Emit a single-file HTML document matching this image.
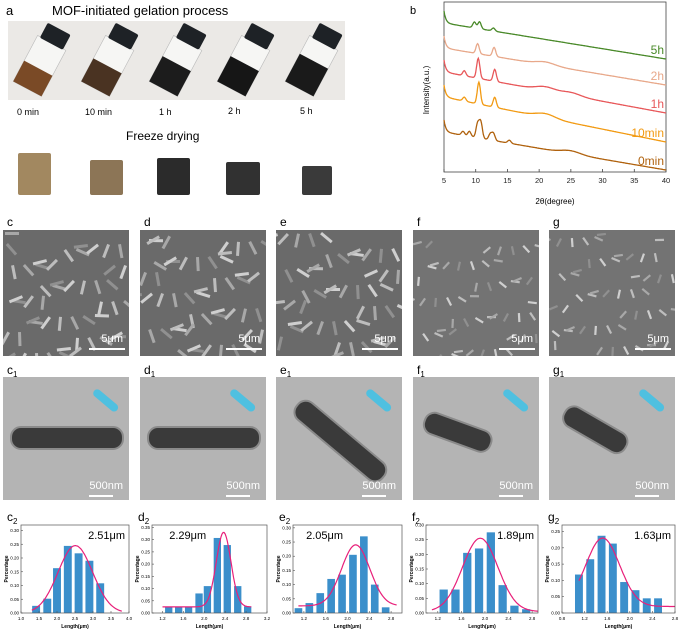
<!DOCTYPE html>
<html><head><meta charset="utf-8"><style>
body{margin:0;background:#fff}
svg{display:block;font-family:"Liberation Sans",sans-serif}
</style></head><body>
<svg id="fig" width="678" height="632" viewBox="0 0 678 632" xmlns="http://www.w3.org/2000/svg">
<defs id="defs"></defs>
<g>
<text x="6" y="15" font-size="13">a</text>
<text x="52" y="15" font-size="13">MOF-initiated gelation process</text>
<rect x="8" y="21" width="337" height="79" fill="#ebe9e6"/>
<g id="vials"></g>
<text x="17" y="115" font-size="9">0 min</text>
<text x="85" y="115" font-size="9">10 min</text>
<text x="159" y="115" font-size="9">1 h</text>
<text x="228" y="114" font-size="9">2 h</text>
<text x="300" y="114" font-size="9">5 h</text>
<text x="126" y="140" font-size="12">Freeze drying</text>
<g id="cubes"></g>
</g>
<g id="xrd">
<text x="410" y="14" font-size="11">b</text>
</g>
<g id="micro"></g>
<g id="hists"></g>
</svg>
<script>
// ---------- XRD data ----------
const xrdSeries = ["0min","10min","1h","2h","5h"];
const xrdColors = ["#b0620e","#f29a12","#e8585a","#e8a88a","#4a8a2a"];
const xrdStart = [40,75,100,124,149];
const xrdEnd = [2,30,59,87,113];
const xrdPeakPos = [[8,9,10.3,10.8,12.3,12.8,15.3,25],[8.2,10.5,13,21],[8.2,10.4,13,21,25],[10.3,12.9,21],[9.8,10.6,12.8]];
const xrdPeakH = [[4,5,14,16,6,7,3,3],[4,22,10,4],[5,20,12,4,3],[10,9,3],[6,7,3]];
const xrdTicks = [5,10,15,20,25,30,35,40];
const NS="http://www.w3.org/2000/svg";
function mk(tag,attrs,parent){const e=document.createElementNS(NS,tag);for(const k in attrs)e.setAttribute(k,attrs[k]);if(parent)parent.appendChild(e);return e;}
const svg=document.getElementById('fig');
const defs=document.getElementById('defs');
const xrd=document.getElementById('xrd');
const XL=444,XR=666,YT=2,YB=172;
const xx=v=>XL+(v-5)/35*(XR-XL);
const xy=v=>YB-v/170*(YB-YT);
const frame=mk('rect',{x:XL,y:YT,width:XR-XL,height:YB-YT,fill:'none',stroke:'#444','stroke-width':0.8},xrd);


xrdTicks.forEach(t=>{
  const l=mk('line',{x1:xx(t),x2:xx(t),y1:YB,y2:YB-3,stroke:'#444','stroke-width':0.8},xrd);
  
  
  const tx=mk('text',{x:xx(t),y:YB+11,'font-size':7.5,'text-anchor':'middle',fill:'#222'},xrd);
  tx.textContent=t;
  
  
});
const xt=mk('text',{x:555,y:204,'font-size':8,'text-anchor':'middle'},xrd);xt.textContent='2θ(degree)';


const yt=mk('text',{x:0,y:0,'font-size':8,'text-anchor':'middle',transform:'translate(429,90) rotate(-90)'},xrd);yt.textContent='Intensity(a.u.)';


xrdSeries.forEach((s,i)=>{
  let d='';
  for(let x=5;x<=40.001;x+=0.1){
    let v=xrdStart[i]+(xrdEnd[i]-xrdStart[i])*(x-5)/35+12*Math.exp(-(x-5)/0.3);
    xrdPeakPos[i].forEach((p,j)=>{v+=xrdPeakH[i][j]*Math.exp(-Math.pow((x-p)/(p>20?1.5:0.25),2)/2);});
    d+=(d?'L':'M')+xx(x).toFixed(1)+','+xy(v).toFixed(1);
  }
  const pth=mk('path',{d:d,fill:'none',stroke:xrdColors[i],'stroke-width':1.3},xrd);
  
  
  const lb=mk('text',{x:664,y:xy(xrdEnd[i])-5,'font-size':12,'text-anchor':'end',fill:xrdColors[i]},xrd);
  lb.textContent=s;
  
  
});
// ---------- vials & cubes ----------
const vialX=[40,108,176,244,312];
const vialLiquid=["#7a4a26","#4a3322","#1c1c1c","#161616","#1a1a1a"];
const vialLevel=[0.45,0.5,0.55,0.55,0.6];
const vg=document.getElementById('vials');
vialX.forEach((cx,i)=>{
  const g=mk('g',{transform:`rotate(28 ${cx} 65)`},vg);
  
  
  mk('rect',{x:cx-16,y:40,width:32,height:52,fill:'#f6f6f4',stroke:'#bbb','stroke-width':0.6},g);
  mk('rect',{x:cx-16,y:40+52*(1-vialLevel[i]),width:32,height:52*vialLevel[i],fill:vialLiquid[i]},g);
  mk('rect',{x:cx-13,y:24,width:26,height:17,rx:2,fill:'#1e2226'},g);
});
const cubeX=[18,90,157,226,302],cubeW=[33,33,33,34,30],cubeT=[153,160,158,162,166];
const cubeC=["#a28860","#8c7556","#2b2b2b","#313131","#3a3a3a"];
const cg=document.getElementById('cubes');
cubeX.forEach((x,i)=>{
  const r=mk('rect',{x:x,y:cubeT[i],width:cubeW[i],height:195-cubeT[i],fill:cubeC[i],rx:2},cg);
  
  
});
// ---------- microscopy ----------
const panelX=[3,140,276,413,549];
const panelL=["c","d","e","f","g"];
const rodAng=[0,0,40,20,30];
const mg=document.getElementById('micro');
panelX.forEach((x,i)=>{
  const w=126;
  const cp=mk('clipPath',{id:'sem'+i},defs);
  mk('rect',{x:x,y:230,width:w,height:126},cp);
  const cp2=mk('clipPath',{id:'tem'+i},defs);
  mk('rect',{x:x,y:377,width:w,height:123},cp2);
  const lab=mk('text',{x:x+4,y:226,'font-size':12},mg);lab.textContent=panelL[i];
  
  
  const sem=mk('rect',{x:x,y:230,width:w,height:126,fill:i<3?'#6a6a6a':'#737373'},mg);
  
  
  const sg=mk('g',{'clip-path':`url(#sem${i})`},mg);
  for(let k=0;k<50;k++){
    const rx=x+2+((k*37+i*13)%124),ry=232+((k*53+i*29)%124),a=(k*47+i*31)%180;
    const sh=['#a8a8a8','#bdbdbd','#cfcfcf','#909090'][k%4];
    mk('rect',{x:rx,y:ry,width:i<3?14:9,height:i<3?3:2.2,fill:sh,transform:`rotate(${a} ${rx} ${ry})`},sg);
  }
  mk('text',{x:x+w-6,y:342,'font-size':11,'text-anchor':'end',fill:'#fff'},mg).textContent='5μm';
  mk('rect',{x:x+w-40,y:348,width:36,height:2,fill:'#fff'},mg);
  const l1=mk('text',{x:x+4,y:374,'font-size':12},mg);l1.innerHTML=panelL[i]+'<tspan font-size="8" dy="3">1</tspan>';
  
  
  const tem=mk('rect',{x:x,y:377,width:w,height:123,fill:'#b4b4b4'},mg);
  
  
  const tg=mk('g',{'clip-path':`url(#tem${i})`},mg);
  const rodG=mk('g',{transform:`rotate(${rodAng[i]} ${x+60} 440)`},tg);
  mk('rect',{x:x+8,y:427,width:i<3?112:70,height:22,rx:10,fill:'#3a3a3a',stroke:'#8a8a8a','stroke-width':2},rodG);
  const cap=mk('rect',{x:x+90,y:390,width:30,height:8,rx:4,fill:'#4fc0e0',transform:`rotate(40 ${x+95} 394)`},mg);
  
  
  mk('text',{x:x+w-6,y:489,'font-size':11,'text-anchor':'end',fill:'#fff'},mg).textContent='500nm';
  mk('rect',{x:x+w-40,y:495,width:24,height:2,fill:'#fff'},mg);
});
// ---------- histograms ----------
const hL=[21,152,293,426,562],hR=[129,267,402,538,675];
const hXmin=[1.0,1.0,1.0,1.0,0.8],hXmax=[4.0,3.2,3.0,2.9,2.8];
const hXticks=[[1.0,1.5,2.0,2.5,3.0,3.5,4.0],[1.2,1.6,2.0,2.4,2.8,3.2],[1.2,1.6,2.0,2.4,2.8],[1.2,1.6,2.0,2.4,2.8],[0.8,1.2,1.6,2.0,2.4,2.8]];
const hYmax=[0.32,0.36,0.31,0.30,0.27];
const hYticks=[[0,0.05,0.1,0.15,0.2,0.25,0.3],[0,0.05,0.1,0.15,0.2,0.25,0.3,0.35],[0,0.05,0.1,0.15,0.2,0.25,0.3],[0,0.05,0.1,0.15,0.2,0.25,0.3],[0,0.05,0.1,0.15,0.2,0.25]];
const hBarX=[[1.42,1.73,2.0,2.3,2.6,2.9,3.2],[1.32,1.51,1.7,1.9,2.06,2.25,2.44,2.64,2.83],[1.1,1.3,1.5,1.7,1.9,2.1,2.3,2.5,2.7],[1.3,1.5,1.7,1.9,2.1,2.3,2.5,2.7],[1.1,1.3,1.5,1.7,1.9,2.1,2.3,2.5]];
const hBarV=[[0.026,0.052,0.163,0.244,0.217,0.19,0.108],[0.025,0.025,0.025,0.08,0.11,0.307,0.278,0.11,0.027],[0.017,0.035,0.07,0.12,0.135,0.205,0.27,0.10,0.02],[0.08,0.08,0.205,0.22,0.275,0.095,0.025,0.013],[0.118,0.165,0.237,0.213,0.095,0.07,0.045,0.045]];
const hBarW=[0.22,0.14,0.14,0.14,0.14];
const fitMean=[2.51,2.37,2.15,1.92,1.52],fitSigma=[0.48,0.14,0.26,0.3,0.3],fitAmp=[0.245,0.305,0.215,0.25,0.21],fitBase=[0,0.025,0.025,0.005,0.02];
const fitFrom=[1.3,1.2,1.1,1.1,1.1],fitTo=[3.8,2.9,2.9,2.9,2.8];
const hMeanLabel=["2.51μm","2.29μm","2.05μm","1.89μm","1.63μm"];
const hLabelX=[0.65,0.15,0.12,0.6,0.6];
const hg=document.getElementById('hists');
const HT=525,HB=613;
hL.forEach((L,i)=>{
  const R=hR[i];
  const g=mk('g',{},hg);
  
  
  const sx=v=>L+(v-hXmin[i])/(hXmax[i]-hXmin[i])*(R-L);
  const sy=v=>HB-v/hYmax[i]*(HB-HT);
  const lab=mk('text',{x:L-14,y:521,'font-size':12},g);lab.innerHTML=panelL[i]+'<tspan font-size="8" dy="3">2</tspan>';
  
  
  hBarX[i].forEach((bx,j)=>{
    const b=mk('rect',{x:sx(bx-hBarW[i]/2),y:sy(hBarV[i][j]),width:sx(bx+hBarW[i]/2)-sx(bx-hBarW[i]/2),height:HB-sy(hBarV[i][j]),fill:'#3b8fcb'},g);
    
    
  });
  let d='';
  for(let x=fitFrom[i];x<=fitTo[i]+1e-6;x+=0.02){const v=fitBase[i]+fitAmp[i]*Math.exp(-Math.pow((x-fitMean[i])/fitSigma[i],2)/2);d+=(d?'L':'M')+sx(x).toFixed(1)+','+sy(v).toFixed(1);}
  const fc=mk('path',{d:d,fill:'none',stroke:'#e8207a','stroke-width':1.2},g);
  
  
  const fr=mk('rect',{x:L,y:HT,width:R-L,height:HB-HT,fill:'none',stroke:'#555','stroke-width':0.7},g);
  
  
  hXticks[i].forEach(t=>{
    mk('line',{x1:sx(t),x2:sx(t),y1:HB,y2:HB-2,stroke:'#555','stroke-width':0.6},g);
    const tx=mk('text',{x:sx(t),y:HB+7,'font-size':4.5,'text-anchor':'middle'},g);tx.textContent=t.toFixed(1);
    
    
  });
  hYticks[i].forEach(t=>{
    mk('line',{x1:L,x2:L+2,y1:sy(t),y2:sy(t),stroke:'#555','stroke-width':0.6},g);
    const tx=mk('text',{x:L-2,y:sy(t)+1.5,'font-size':4.5,'text-anchor':'end'},g);tx.textContent=t.toFixed(2);
    
    
  });
  const xl=mk('text',{x:(L+R)/2,y:HB+15,'font-size':5,'text-anchor':'middle','font-weight':'bold'},g);xl.textContent='Length(μm)';
  
  
  const yl=mk('text',{x:0,y:0,'font-size':5,'text-anchor':'middle','font-weight':'bold',transform:`translate(${L-13},${(HT+HB)/2}) rotate(-90)`},g);yl.textContent='Percentage';
  
  
  const ml=mk('text',{x:L+hLabelX[i]*(R-L),y:HT+14,'font-size':11},g);ml.textContent=hMeanLabel[i];
  if(hLabelX[i]>0.5){ml.setAttribute('x',R-4);ml.setAttribute('text-anchor','end');}
  
  
});
</script>
</body></html>
